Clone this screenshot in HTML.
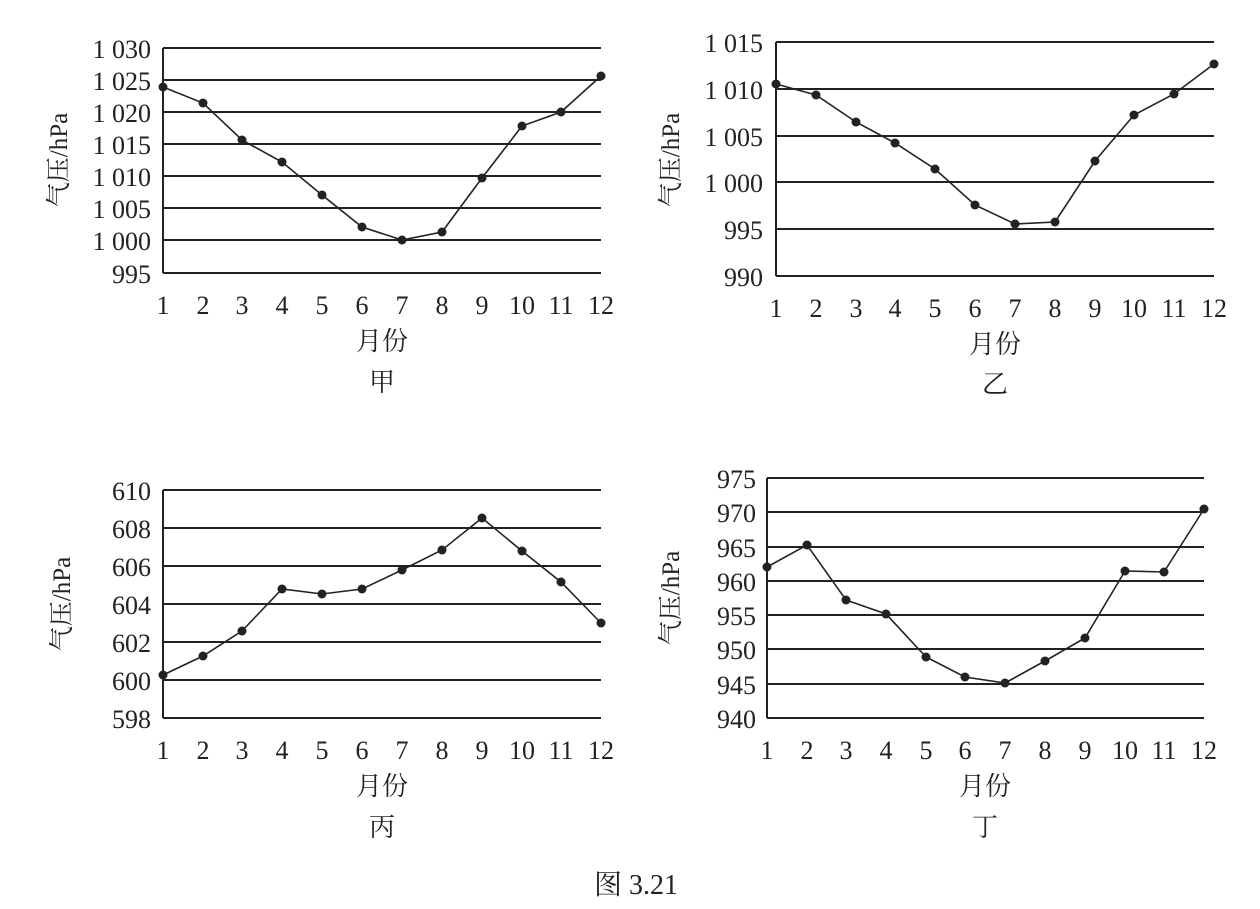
<!DOCTYPE html>
<html><head><meta charset="utf-8"><style>
body{margin:0;background:#fff;}
svg{display:block;}
text{font-family:"Liberation Serif","Noto Serif CJK SC",serif;fill:#222;}
</style></head><body>
<svg width="1260" height="909" viewBox="0 0 1260 909" xmlns="http://www.w3.org/2000/svg">
<g stroke="#222" stroke-width="2" fill="none">
<line x1="163" y1="48" x2="163" y2="273"/>
<path d="M163 48H601M163 80H601M163 112H601M163 144H601M163 176H601M163 208H601M163 240H601M163 273H601"/>
<polyline stroke-width="1.6" points="163,87 203,103 242,140 282,162 322,195 362,227 402,240 442,232 482,178 522,126 561,112 601,76"/>
<line x1="776" y1="42" x2="776" y2="276"/>
<path d="M776 42H1214M776 89H1214M776 136H1214M776 182H1214M776 229H1214M776 276H1214"/>
<polyline stroke-width="1.6" points="776,84 816,95 856,122 895,143 935,169 975,205 1015,224 1055,222 1095,161 1134,115 1174,94 1214,64"/>
<line x1="163" y1="490" x2="163" y2="718"/>
<path d="M163 490H601M163 528H601M163 566H601M163 604H601M163 642H601M163 680H601M163 718H601"/>
<polyline stroke-width="1.6" points="163,675 203,656 242,631 282,589 322,594 362,589 402,570 442,550 482,518 522,551 561,582 601,623"/>
<line x1="767" y1="478" x2="767" y2="718"/>
<path d="M767 478H1204M767 512H1204M767 547H1204M767 581H1204M767 615H1204M767 649H1204M767 684H1204M767 718H1204"/>
<polyline stroke-width="1.6" points="767,567 807,545 846,600 886,614 926,657 965,677 1005,683 1045,661 1085,638 1125,571 1164,572 1204,509"/>
</g>
<g fill="#222">
<circle cx="163" cy="87" r="4.5"/><circle cx="203" cy="103" r="4.5"/><circle cx="242" cy="140" r="4.5"/><circle cx="282" cy="162" r="4.5"/><circle cx="322" cy="195" r="4.5"/><circle cx="362" cy="227" r="4.5"/><circle cx="402" cy="240" r="4.5"/><circle cx="442" cy="232" r="4.5"/><circle cx="482" cy="178" r="4.5"/><circle cx="522" cy="126" r="4.5"/><circle cx="561" cy="112" r="4.5"/><circle cx="601" cy="76" r="4.5"/>
<circle cx="776" cy="84" r="4.5"/><circle cx="816" cy="95" r="4.5"/><circle cx="856" cy="122" r="4.5"/><circle cx="895" cy="143" r="4.5"/><circle cx="935" cy="169" r="4.5"/><circle cx="975" cy="205" r="4.5"/><circle cx="1015" cy="224" r="4.5"/><circle cx="1055" cy="222" r="4.5"/><circle cx="1095" cy="161" r="4.5"/><circle cx="1134" cy="115" r="4.5"/><circle cx="1174" cy="94" r="4.5"/><circle cx="1214" cy="64" r="4.5"/>
<circle cx="163" cy="675" r="4.5"/><circle cx="203" cy="656" r="4.5"/><circle cx="242" cy="631" r="4.5"/><circle cx="282" cy="589" r="4.5"/><circle cx="322" cy="594" r="4.5"/><circle cx="362" cy="589" r="4.5"/><circle cx="402" cy="570" r="4.5"/><circle cx="442" cy="550" r="4.5"/><circle cx="482" cy="518" r="4.5"/><circle cx="522" cy="551" r="4.5"/><circle cx="561" cy="582" r="4.5"/><circle cx="601" cy="623" r="4.5"/>
<circle cx="767" cy="567" r="4.5"/><circle cx="807" cy="545" r="4.5"/><circle cx="846" cy="600" r="4.5"/><circle cx="886" cy="614" r="4.5"/><circle cx="926" cy="657" r="4.5"/><circle cx="965" cy="677" r="4.5"/><circle cx="1005" cy="683" r="4.5"/><circle cx="1045" cy="661" r="4.5"/><circle cx="1085" cy="638" r="4.5"/><circle cx="1125" cy="571" r="4.5"/><circle cx="1164" cy="572" r="4.5"/><circle cx="1204" cy="509" r="4.5"/>
</g>
<g font-size="26" text-anchor="end">
<text x="151" y="58">1 030</text><text x="151" y="90">1 025</text><text x="151" y="122">1 020</text><text x="151" y="154">1 015</text><text x="151" y="186">1 010</text><text x="151" y="218">1 005</text><text x="151" y="250">1 000</text><text x="151" y="283">995</text>
<text x="763" y="52">1 015</text><text x="763" y="99">1 010</text><text x="763" y="146">1 005</text><text x="763" y="192">1 000</text><text x="763" y="239">995</text><text x="763" y="286">990</text>
<text x="151" y="500">610</text><text x="151" y="538">608</text><text x="151" y="576">606</text><text x="151" y="614">604</text><text x="151" y="652">602</text><text x="151" y="690">600</text><text x="151" y="728">598</text>
<text x="756" y="488">975</text><text x="756" y="522">970</text><text x="756" y="557">965</text><text x="756" y="591">960</text><text x="756" y="625">955</text><text x="756" y="659">950</text><text x="756" y="694">945</text><text x="756" y="728">940</text>
</g>
<g font-size="26" text-anchor="middle">
<text x="163" y="314">1</text><text x="203" y="314">2</text><text x="242" y="314">3</text><text x="282" y="314">4</text><text x="322" y="314">5</text><text x="362" y="314">6</text><text x="402" y="314">7</text><text x="442" y="314">8</text><text x="482" y="314">9</text><text x="522" y="314">10</text><text x="561" y="314">11</text><text x="601" y="314">12</text>
<text x="776" y="317">1</text><text x="816" y="317">2</text><text x="856" y="317">3</text><text x="895" y="317">4</text><text x="935" y="317">5</text><text x="975" y="317">6</text><text x="1015" y="317">7</text><text x="1055" y="317">8</text><text x="1095" y="317">9</text><text x="1134" y="317">10</text><text x="1174" y="317">11</text><text x="1214" y="317">12</text>
<text x="163" y="759">1</text><text x="203" y="759">2</text><text x="242" y="759">3</text><text x="282" y="759">4</text><text x="322" y="759">5</text><text x="362" y="759">6</text><text x="402" y="759">7</text><text x="442" y="759">8</text><text x="482" y="759">9</text><text x="522" y="759">10</text><text x="561" y="759">11</text><text x="601" y="759">12</text>
<text x="767" y="759">1</text><text x="807" y="759">2</text><text x="846" y="759">3</text><text x="886" y="759">4</text><text x="926" y="759">5</text><text x="965" y="759">6</text><text x="1005" y="759">7</text><text x="1045" y="759">8</text><text x="1085" y="759">9</text><text x="1125" y="759">10</text><text x="1164" y="759">11</text><text x="1204" y="759">12</text>
<text x="382" y="350">月份</text><text x="382" y="391">甲</text>
<text x="995" y="353">月份</text><text x="995" y="393">乙</text>
<text x="382" y="795">月份</text><text x="382" y="836">丙</text>
<text x="985" y="795">月份</text><text x="985" y="836">丁</text>
<text x="636" y="894" font-size="28">图 3.21</text>
</g>
<g font-size="25" text-anchor="middle">
<text transform="translate(67,160) rotate(-90)">气压/hPa</text>
<text transform="translate(679,160) rotate(-90)">气压/hPa</text>
<text transform="translate(70,604) rotate(-90)">气压/hPa</text>
<text transform="translate(679,598) rotate(-90)">气压/hPa</text>
</g>
</svg>
</body></html>
